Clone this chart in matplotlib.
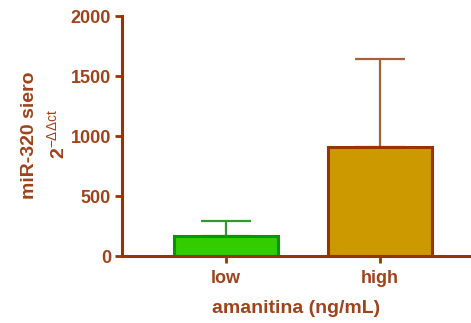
import numpy as np
import matplotlib.pyplot as plt

plt.rcParams['font.family'] = ['Liberation Sans', 'DejaVu Sans']
plt.rcParams['mathtext.fontset'] = 'custom'
plt.rcParams['mathtext.rm'] = 'Liberation Sans'
plt.rcParams['mathtext.it'] = 'Liberation Sans'
plt.rcParams['mathtext.bf'] = 'Liberation Sans:bold'

# data
groups = ['low', 'high']
means = [165, 910]
sem_up = [127, 733]

fills = ['#33CC00', '#CC9900']
edges = ['#009900', '#993300']
err_cols = ['#2E9A2E', '#A8603A']
brown = '#993300'
txt = '#A0421A'

fig = plt.figure(figsize=(4.71, 3.23), dpi=100)
ax = fig.add_axes([0.259, 0.207, 0.741, 0.743])

x = np.arange(len(groups))
for i in range(len(groups)):
    ax.bar(x[i], means[i], width=0.68, color=fills[i], edgecolor=edges[i],
           linewidth=2.2, zorder=2)
    ax.errorbar(x[i], means[i], yerr=[[0], [sem_up[i]]], fmt='none',
                ecolor=err_cols[i], elinewidth=1.6, capsize=18, capthick=1.6,
                zorder=1)

ax.set_xlim(-0.675, 1.59)
ax.set_ylim(0, 2000)
ax.set_yticks([0, 500, 1000, 1500, 2000])
ax.set_xticks(x)
ax.set_xticklabels(groups)

for s in ['top', 'right']:
    ax.spines[s].set_visible(False)
for s in ['left', 'bottom']:
    ax.spines[s].set_color(brown)
    ax.spines[s].set_linewidth(2.2)

ax.tick_params(axis='both', colors=brown, width=2, length=5, labelsize=13,
               labelcolor=txt)
ax.tick_params(axis='y', pad=3)
ax.tick_params(axis='x', pad=5)
for lab in ax.get_xticklabels() + ax.get_yticklabels():
    lab.set_fontweight('bold')

ax.set_xlabel('amanitina (ng/mL)', fontsize=14, fontweight='bold', color=txt,
              labelpad=9)

fig.text(0.062, 0.58, 'miR-320 siero', rotation=90, fontsize=14,
         fontweight='bold', color=txt, ha='center', va='center')
fig.text(0.121, 0.585, r'$\mathbf{2}^{-\Delta\Delta \mathrm{ct}}$', rotation=90,
         fontsize=14, color=txt, ha='center', va='center')

fig.savefig('out.png', dpi=100)
